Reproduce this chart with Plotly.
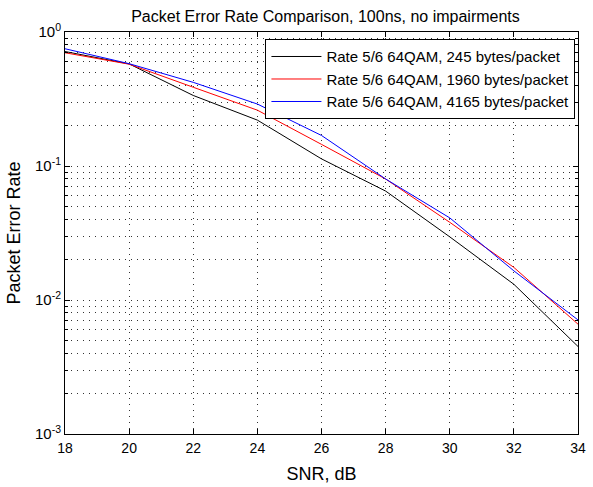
import plotly.graph_objects as go

snr = [18, 20, 22, 24, 26, 28, 30, 32, 34]
per_245 = [0.715, 0.578, 0.336, 0.220, 0.113, 0.065, 0.0296, 0.0131, 0.0045]
per_1960 = [0.700, 0.575, 0.387, 0.261, 0.145, 0.080, 0.038, 0.0175, 0.0066]
per_4165 = [0.750, 0.580, 0.421, 0.290, 0.169, 0.080, 0.041, 0.0165, 0.0071]
names = ["Rate 5/6 64QAM, 245 bytes/packet",
         "Rate 5/6 64QAM, 1960 bytes/packet",
         "Rate 5/6 64QAM, 4165 bytes/packet"]
colors = ["#000000", "#ff0000", "#0000ff"]
x_ticks = [18, 20, 22, 24, 26, 28, 30, 32, 34]
y_ticks = [1e-3, 1e-2, 1e-1, 1]
y_ticktext = ["10<sup>-3</sup>", "10<sup>-2</sup>", "10<sup>-1</sup>", "10<sup>0</sup>"]
y_minor = [m * 10 ** e for e in (-3, -2, -1) for m in range(2, 10)]

FONT = "Liberation Sans, Arial, sans-serif"

fig = go.Figure()
for ys, nm, c in zip([per_245, per_1960, per_4165], names, colors):
    fig.add_trace(go.Scatter(x=snr, y=ys, mode="lines", name=nm,
                             line=dict(color=c, width=1)))

grid = dict(gridcolor="#333333", gridwidth=1, griddash="1px,5px")

fig.update_layout(
    width=593, height=487,
    margin=dict(l=65, r=7, t=32, b=45),
    paper_bgcolor="white", plot_bgcolor="white",
    font=dict(family=FONT, size=15, color="black"),
    title=dict(text="Packet Error Rate Comparison, 100ns, no impairments",
               x=(65 + 586) / 2 / 593, xanchor="center", y=1 - 16 / 487, yanchor="middle",
               font=dict(size=16)),
    showlegend=True,
    legend=dict(x=0.995, xanchor="right", y=0.982, yanchor="top",
                bgcolor="white", bordercolor="black", borderwidth=1,
                itemwidth=50, font=dict(size=15)),
    xaxis=dict(range=[18, 34], tickvals=x_ticks, showline=True, linecolor="black",
               linewidth=1, mirror="allticks", ticks="inside", ticklen=5,
               tickcolor="black", showgrid=True, zeroline=False, ticklabelstandoff=1,
               tickfont=dict(size=14),
               title=dict(text="SNR, dB", standoff=12), **grid),
    yaxis=dict(type="log", range=[-3, 0], tickvals=y_ticks, ticktext=y_ticktext,
               showline=True, linecolor="black", linewidth=1, mirror="allticks",
               ticks="inside", ticklen=5, tickcolor="black", showgrid=True,
               zeroline=False, title=dict(text="Packet Error Rate", standoff=9),
               minor=dict(tickvals=y_minor, ticks="inside", ticklen=3,
                          tickcolor="black", showgrid=True, **grid),
               **grid),
)

fig.write_html("out.html", config={"displayModeBar": False},
               post_script="document.body.style.margin='0';")
